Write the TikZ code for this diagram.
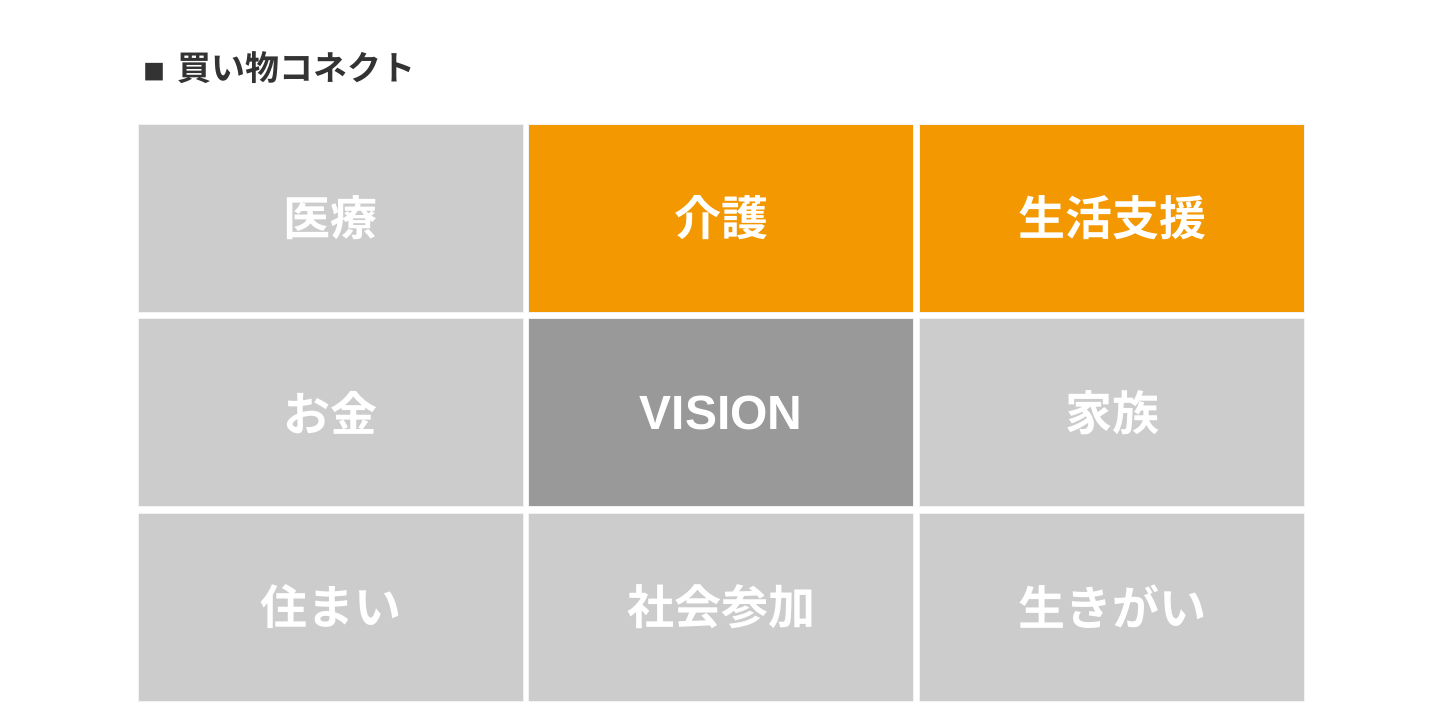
\documentclass[tikz,border=0pt]{standalone}
\usepackage{fontspec}
\newfontfamily\jp{Noto Sans CJK JP}[BoldFont={* Bold}]
\newfontfamily\lat{Liberation Sans}
\begin{document}
\begin{tikzpicture}[x=1pt,y=-1pt,
  cell/.style={draw=white!90!gray,line width=0.8pt,minimum width=385pt,minimum height=188pt,inner sep=0pt,text=white,font=\jp\bfseries\fontsize{47}{47}\selectfont},
  lg/.style={cell,fill=lgray},
  og/.style={cell,fill=orng},
  dg/.style={cell,fill=dgray}]
\definecolor{lgray}{HTML}{CCCCCC}
\definecolor{orng}{HTML}{F39800}
\definecolor{dgray}{HTML}{999999}
\definecolor{ttl}{HTML}{333333}
\useasboundingbox (0,0) rectangle (1440,714);
\fill[white] (0,0) rectangle (1440,714);
\node[anchor=west,inner sep=0pt,text=ttl,font=\jp\bfseries\fontsize{34}{34}\selectfont] (title) at (143,68) {{\fontsize{22}{22}\selectfont ■}\hspace{12pt}買い物コネクト};
\node[lg] (a1) at (330.5,218) {医療};
\node[og] (a2) at (721,218) {介護};
\node[og] (a3) at (1112,218) {生活支援};
\node[lg] (b1) at (330.5,412.5) {お金};
\node[dg] (b2) at (721,412.5) {\lat\bfseries\fontsize{48}{48}\selectfont VISION};
\node[lg] (b3) at (1112,412.5) {家族};
\node[lg] (c1) at (330.5,607) {住まい};
\node[lg] (c2) at (721,607) {社会参加};
\node[lg] (c3) at (1112,607) {生きがい};
\end{tikzpicture}
\end{document}
